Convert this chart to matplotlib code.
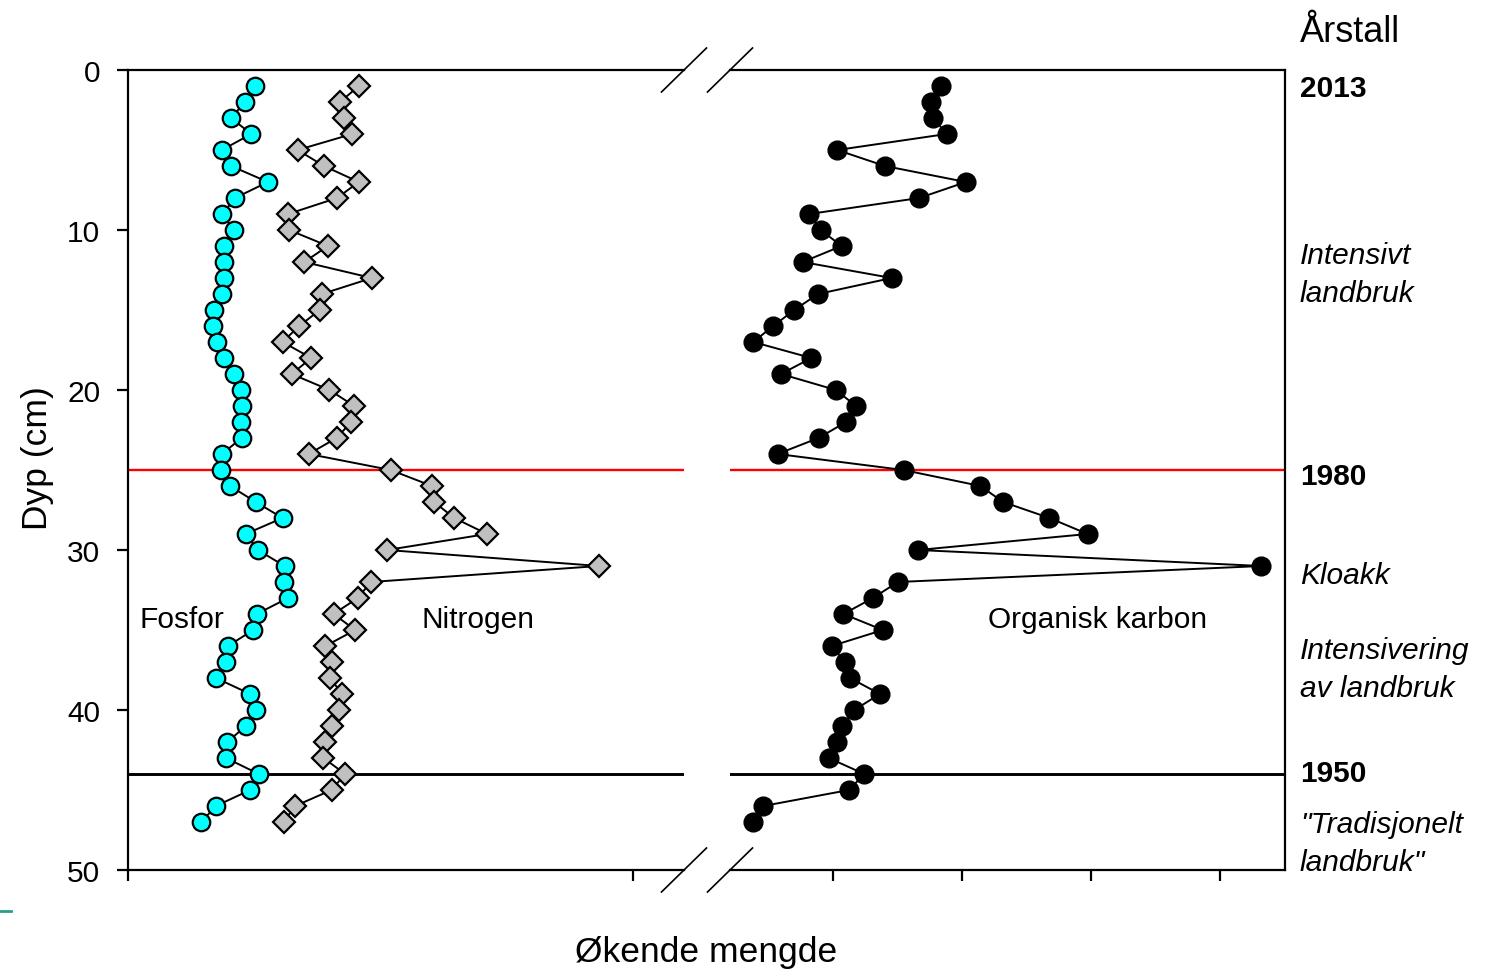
import matplotlib
matplotlib.use("Agg")
import matplotlib.pyplot as plt
from matplotlib.lines import Line2D

plt.rcParams['font.family'] = ['Liberation Sans', 'DejaVu Sans']

# dybde (cm) for hver prøve
depth = list(range(1, 48))

# relative mengder lest av figuren (vilkårlige enheter)
fosfor = [2.51, 2.32, 2.04, 2.44, 1.86, 2.04, 2.77, 2.12, 1.87, 2.09,
          1.90, 1.91, 1.90, 1.87, 1.71, 1.69, 1.76, 1.91, 2.09, 2.23,
          2.26, 2.24, 2.25, 1.86, 1.85, 2.02, 2.53, 3.06, 2.33, 2.57,
          3.10, 3.08, 3.17, 2.55, 2.48, 1.98, 1.95, 1.74, 2.42, 2.53,
          2.33, 1.97, 1.94, 2.59, 2.42, 1.74, 1.45]

nitrogen = [4.57, 4.20, 4.28, 4.44, 3.36, 3.88, 4.57, 4.14, 3.17, 3.19,
            3.96, 3.49, 4.83, 3.84, 3.80, 3.39, 3.06, 3.63, 3.24, 3.99,
            4.48, 4.42, 4.13, 3.58, 5.20, 6.02, 6.06, 6.46, 7.11, 5.13,
            9.33, 4.81, 4.55, 4.07, 4.50, 3.91, 4.03, 4.00, 4.24, 4.18,
            4.03, 3.90, 3.87, 4.30, 4.03, 3.31, 3.08]

karbon = [28.37, 27.60, 27.78, 28.81, 20.33, 24.03, 30.31, 26.69, 18.16, 19.05,
          20.67, 17.65, 24.55, 18.84, 17.00, 15.37, 13.82, 18.33, 15.97, 20.23,
          21.78, 21.02, 18.88, 15.71, 25.47, 31.43, 33.19, 36.78, 39.74, 26.60,
          53.21, 25.03, 23.10, 20.81, 23.87, 19.90, 20.93, 21.32, 23.64, 21.65,
          20.67, 20.33, 19.67, 22.43, 21.24, 14.60, 13.82]

y_ticks = [0, 10, 20, 30, 40, 50]
year_1980 = 25
year_1950 = 44

W, H = 1504, 970
fig = plt.figure(figsize=(W / 100, H / 100), dpi=100)

ax1 = fig.add_axes([128 / W, 1 - 871 / H, (684 - 128) / W, 800 / H])
ax2 = fig.add_axes([730 / W, 1 - 871 / H, (1285 - 730) / W, 800 / H])

ax1.plot(fosfor, depth, color='black', lw=1.4, zorder=3)
ax1.plot(fosfor, depth, ls='none', marker='o', ms=12.6, mfc='#00ffff',
         mec='black', mew=1.6, zorder=4)
ax1.plot(nitrogen, depth, color='black', lw=1.4, zorder=3)
ax1.plot(nitrogen, depth, ls='none', marker='D', ms=11.2, mfc='#c0c0c0',
         mec='black', mew=1.6, zorder=4)

ax2.plot(karbon, depth, color='black', lw=1.4, zorder=3)
ax2.plot(karbon, depth, ls='none', marker='o', ms=13.5, mfc='black',
         mec='black', mew=1, zorder=4)

for ax in (ax1, ax2):
    ax.axhline(year_1980, color='red', lw=1.7, zorder=2)
    ax.axhline(year_1950, color='black', lw=2.1, zorder=2)
    ax.set_ylim(50, 0)
    ax.tick_params(axis='both', direction='out', length=8, width=1.6,
                   labelsize=21.5, pad=12)
    for s in ax.spines.values():
        s.set_linewidth(1.6)

ax1.set_xlim(0, 556 / 50.5)
ax1.set_xticks([0, 10])
ax1.set_xticklabels([])
ax1.set_yticks(y_ticks)
ax1.spines['right'].set_visible(False)

ax2.set_xlim(12.02, 55.04)
ax2.set_xticks([20, 30, 40, 50])
ax2.set_xticklabels([])
ax2.set_yticks([])
ax2.spines['left'].set_visible(False)

# serienavn
ax1.text(0.22, 34.8, 'Fosfor', fontsize=21.5, va='baseline')
ax1.text(5.82, 34.8, 'Nitrogen', fontsize=21.5, va='baseline')
ax2.text(32.0, 34.8, 'Organisk karbon', fontsize=21.5, va='baseline')

# brudd-markeringer på x-aksen
for xc in (684, 730):
    for yc in (71, 871):
        fig.add_artist(Line2D([(xc - 22.5) / W, (xc + 22.5) / W],
                              [1 - (yc + 22) / H, 1 - (yc - 22) / H],
                              color='black', lw=1.2,
                              transform=fig.transFigure))

fig.text(706 / W, 1 - 962 / H, 'Økende mengde', fontsize=25.5,
         ha='center', va='baseline')
fig.text(38 / W, 1 - 458 / H, 'Dyp (cm)', fontsize=25.5, rotation=90,
         ha='center', va='center')

# tidslinje til høyre
xr = 1300 / W
fig.text(xr, 1 - 42 / H, 'Årstall', fontsize=26, va='baseline')
for txt, yb in [('2013', 97), ('1980', 485), ('1950', 782)]:
    fig.text(xr, 1 - yb / H, txt, fontsize=21.5, fontweight='bold',
             va='baseline')
for txt, yb in [('Intensivt', 264), ('landbruk', 302), ('Kloakk', 584),
                ('Intensivering', 659), ('av landbruk', 697),
                ('"Tradisjonelt', 833), ('landbruk"', 871)]:
    fig.text(xr, 1 - yb / H, txt, fontsize=21.5, style='italic',
             va='baseline')

fig.add_artist(Line2D([0, 11 / W], [1 - 912 / H, 1 - 912 / H],
                      color='#2a9d8f', lw=2, transform=fig.transFigure))

fig.savefig('out.png', dpi=100)
